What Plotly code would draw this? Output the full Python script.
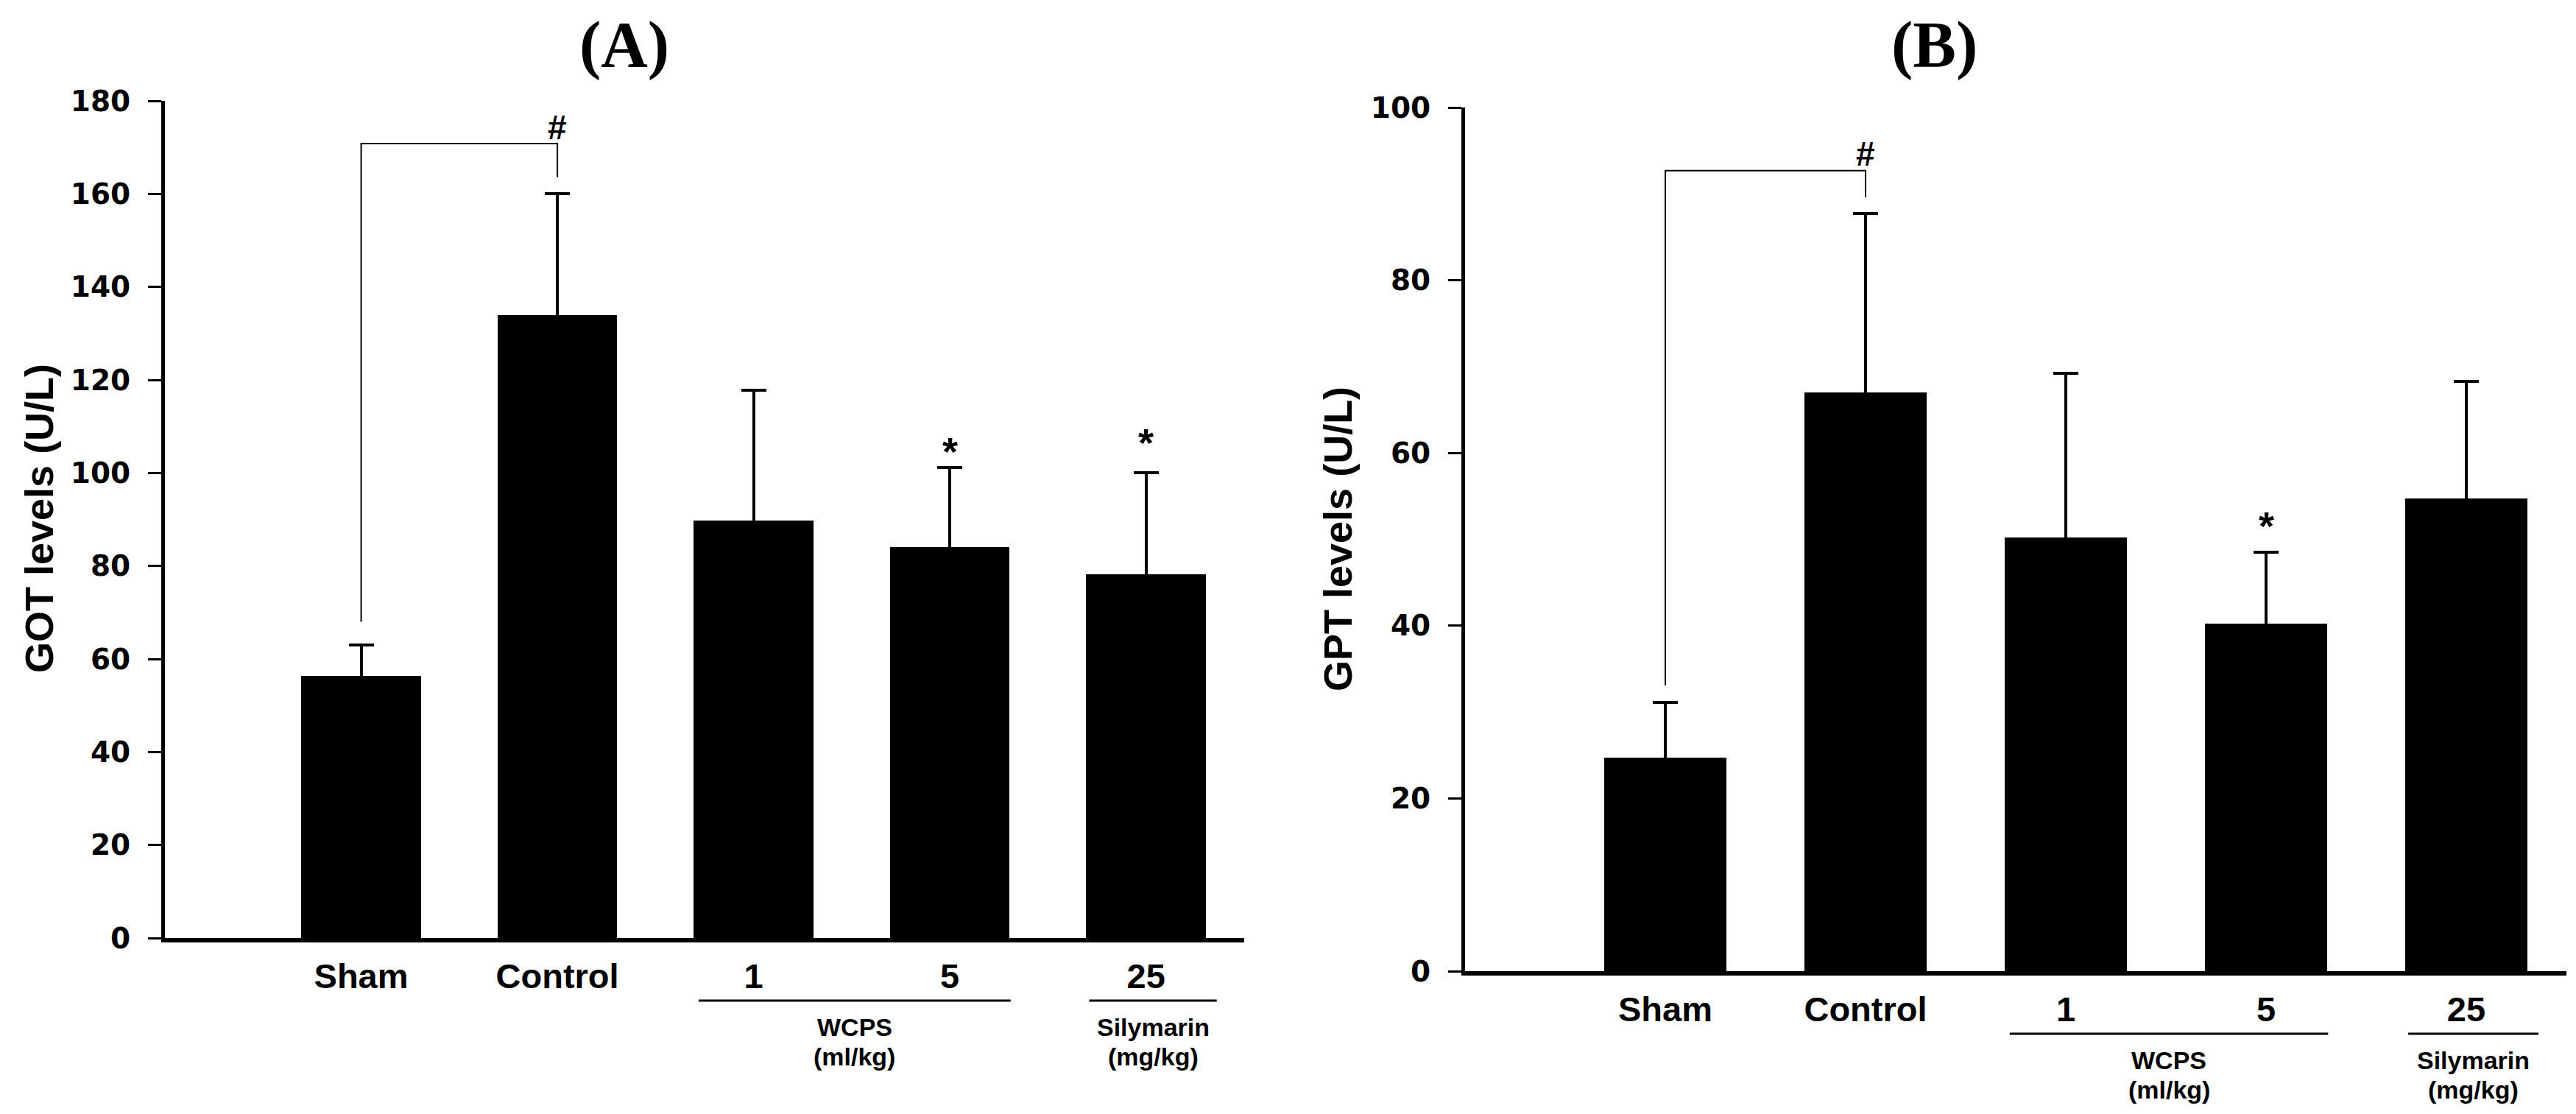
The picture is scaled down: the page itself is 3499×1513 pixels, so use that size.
import plotly.graph_objects as go

# ---------------- data ----------------
categories = ["Sham", "Control", "1", "5", "25"]

got_mean = [56.4, 134.0, 89.7, 84.1, 78.2]
got_sd = [6.6, 26.0, 28.1, 17.1, 21.8]

gpt_mean = [24.7, 67.0, 50.2, 40.2, 54.7]
gpt_sd = [6.4, 20.7, 19.0, 8.3, 13.6]

got_ticks = [0, 20, 40, 60, 80, 100, 120, 140, 160, 180]
gpt_ticks = [0, 20, 40, 60, 80, 100]

# significance marks (value positions)
got_star_idx = [3, 4]
got_star_y = [104.7, 106.5]
gpt_star_idx = [3]
gpt_star_y = [51.6]

got_bracket = dict(top=170.8, left_bottom=68.0, right_bottom=163.6, mark_y=174.3)
gpt_bracket = dict(top=92.7, left_bottom=33.1, right_bottom=89.6, mark_y=94.6)

group_names = ["WCPS", "Silymarin"]
group_units = ["(ml/kg)", "(mg/kg)"]
group_spans = [(1.72, 3.31), (3.71, 4.36)]

# ---------------- layout geometry ----------------
W, H = 3499, 1513
xA = [224 / W, 1690 / W]
xB = [1990 / W, 3486 / W]
yA = [1 - 1274 / H, 1 - 137 / H]
yB = [1 - 1319 / H, 1 - 146 / H]

SANS = "Liberation Sans, Arial, sans-serif"
TICKF = "DejaVu Sans, Arial Black, sans-serif"
SERIF = "Liberation Serif, Times New Roman, serif"

fig = go.Figure()

for mean, sd, xa, ya in [(got_mean, got_sd, "x", "y"), (gpt_mean, gpt_sd, "x2", "y2")]:
    # upward error bars only: the lower end runs down inside the black bar to the baseline
    fig.add_trace(go.Bar(
        x=list(range(len(categories))), y=mean, width=0.61,
        marker=dict(color="black", line=dict(width=0)),
        error_y=dict(type="data", array=sd, arrayminus=mean, symmetric=False,
                     color="black", thickness=4, width=17),
        xaxis=xa, yaxis=ya, showlegend=False, cliponaxis=False,
    ))

axis_common_x = dict(
    range=[-1, 4.5], tickvals=list(range(len(categories))), ticktext=categories,
    showline=True, linewidth=6, linecolor="black", ticks="", showgrid=False,
    zeroline=False, tickfont=dict(family=SANS, size=47, color="black", weight="bold"),
    ticklabelstandoff=6, fixedrange=True, automargin=False, layer="above traces",
)
axis_common_y = dict(
    showline=True, linewidth=5, linecolor="black", ticks="outside", ticklen=18,
    tickwidth=3, tickcolor="black", showgrid=False, zeroline=False,
    tickfont=dict(family=TICKF, size=39, color="black", weight="bold"),
    ticklabelstandoff=16, fixedrange=True, automargin=False, layer="above traces",
)

fig.update_layout(
    width=W, height=H, margin=dict(l=0, r=0, t=0, b=0, pad=0, autoexpand=False),
    paper_bgcolor="white", plot_bgcolor="white",
    xaxis=dict(domain=xA, anchor="y", **axis_common_x),
    yaxis=dict(domain=yA, anchor="x", range=[0, 180], tickvals=got_ticks, **axis_common_y),
    xaxis2=dict(domain=xB, anchor="y2", **axis_common_x),
    yaxis2=dict(domain=yB, anchor="x2", range=[0, 100], tickvals=gpt_ticks, **axis_common_y),
    bargap=0,
)

shapes = []
annotations = []

# brackets and '#'
for br, xa, ya in [(got_bracket, "x", "y"), (gpt_bracket, "x2", "y2")]:
    shapes.append(dict(
        type="path", xref=xa, yref=ya,
        path=f"M 0 {br['left_bottom']} L 0 {br['top']} L 1 {br['top']} L 1 {br['right_bottom']}",
        line=dict(color="black", width=2),
    ))
    annotations.append(dict(x=1, y=br["mark_y"], xref=xa, yref=ya, text="#", showarrow=False,
                            font=dict(family=SANS, size=46, color="black", weight="bold"),
                            yanchor="middle"))

# asterisks
for idxs, ys, xa, ya in [(got_star_idx, got_star_y, "x", "y"), (gpt_star_idx, gpt_star_y, "x2", "y2")]:
    for i, yv in zip(idxs, ys):
        annotations.append(dict(x=i, y=yv, xref=xa, yref=ya, text="*", showarrow=False,
                                font=dict(family=SANS, size=54, color="black", weight="bold"),
                                yanchor="middle"))

# group lines and labels
for xa, axis_px in [("x", 1274), ("x2", 1319)]:
    line_y = 1 - (axis_px + 85) / H
    name_y = 1 - (axis_px + 121) / H
    unit_y = 1 - (axis_px + 161) / H
    for name, unit, (a, b) in zip(group_names, group_units, group_spans):
        shapes.append(dict(type="line", xref=xa, yref="paper", x0=a, x1=b, y0=line_y, y1=line_y,
                           line=dict(color="black", width=3)))
        annotations.append(dict(x=(a + b) / 2, y=name_y, xref=xa, yref="paper", text=name,
                                showarrow=False, yanchor="middle",
                                font=dict(family=SANS, size=34, color="black", weight="bold")))
        annotations.append(dict(x=(a + b) / 2, y=unit_y, xref=xa, yref="paper", text=unit,
                                showarrow=False, yanchor="middle",
                                font=dict(family=SANS, size=34, color="black", weight="bold")))

# y-axis titles
annotations.append(dict(x=53 / W, y=1 - 704 / H, xref="paper", yref="paper", text="GOT levels (U/L)",
                        textangle=-90, showarrow=False, xanchor="center", yanchor="middle",
                        font=dict(family=SANS, size=54, color="black", weight="bold")))
annotations.append(dict(x=1817 / W, y=1 - 732 / H, xref="paper", yref="paper", text="GPT levels (U/L)",
                        textangle=-90, showarrow=False, xanchor="center", yanchor="middle",
                        font=dict(family=SANS, size=54, color="black", weight="bold")))

# panel titles
annotations.append(dict(x=848 / W, y=1 - 60 / H, xref="paper", yref="paper", text="(A)",
                        showarrow=False, xanchor="center", yanchor="middle",
                        font=dict(family=SERIF, size=88, color="black", weight="bold")))
annotations.append(dict(x=2627 / W, y=1 - 60 / H, xref="paper", yref="paper", text="(B)",
                        showarrow=False, xanchor="center", yanchor="middle",
                        font=dict(family=SERIF, size=88, color="black", weight="bold")))

fig.update_layout(shapes=shapes, annotations=annotations)
fig.write_html("out.html")
